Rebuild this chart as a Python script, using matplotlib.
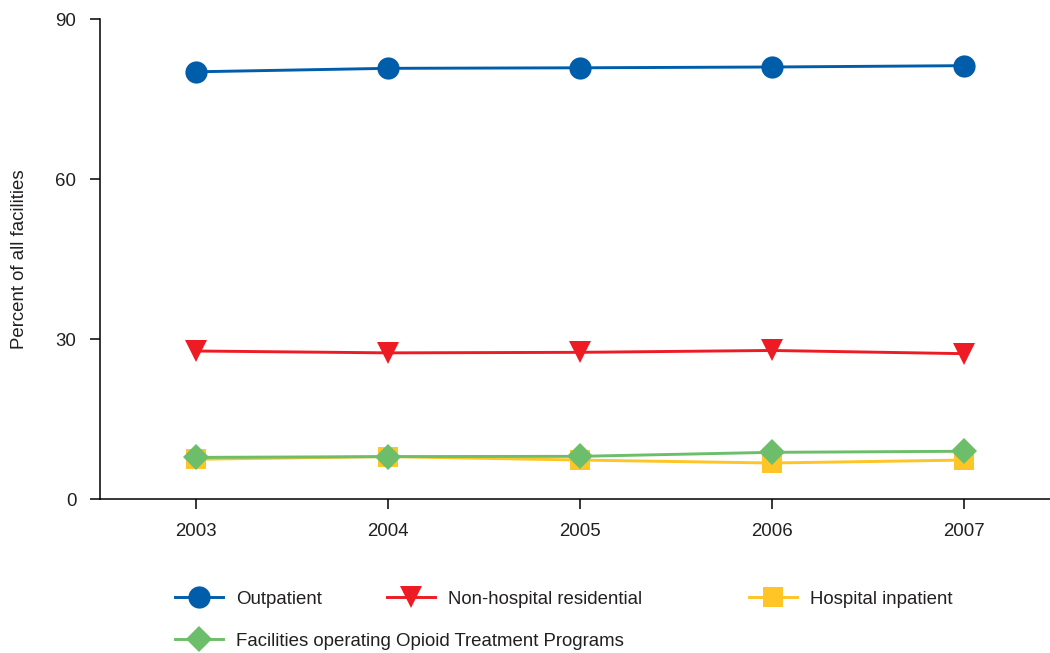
import numpy as np
import matplotlib
matplotlib.use('Agg')
import matplotlib.pyplot as plt
from matplotlib.lines import Line2D

years = [2003, 2004, 2005, 2006, 2007]
outpatient = [80.1, 80.75, 80.85, 81.0, 81.25]
residential = [27.75, 27.4, 27.5, 27.85, 27.25]
inpatient = [7.45, 7.95, 7.3, 6.75, 7.3]
otp = [7.8, 7.95, 8.0, 8.75, 8.95]

labels = ['Outpatient', 'Non-hospital residential', 'Hospital inpatient',
          'Facilities operating Opioid Treatment Programs']
colors = ['#005DAA', '#ED1C24', '#FFC425', '#6CBE6A']
markers = ['o', 'v', 's', 'D']
msizes = [16, 16, 14.5, 13]
txt = '#231F20'
fs = 13.4

plt.rcParams['font.family'] = ['Liberation Sans', 'DejaVu Sans']

fig = plt.figure(figsize=(10.5, 6.53), dpi=100)
ax = fig.add_axes([100/1050, 1 - 499/653, 1 - 100/1050, 480/653])

series = [outpatient, residential, inpatient, otp]
for s, c, m, ms in zip(series, colors, markers, msizes):
    ax.plot(years, s, color=c, marker=m, markersize=ms, linewidth=2.1,
            markeredgewidth=0, clip_on=False)

ax.set_xlim(2002.5, 2007.45)
ax.set_ylim(0, 90)
ax.set_yticks([0, 30, 60, 90])
ax.set_xticks(years)
ax.spines['top'].set_visible(False)
ax.spines['right'].set_visible(False)
ax.spines['left'].set_linewidth(1.1)
ax.spines['bottom'].set_linewidth(1.1)
ax.tick_params(direction='out', length=7, width=1.1, pad=10,
               labelsize=fs, colors='black', labelcolor=txt)
ax.set_ylabel('Percent of all facilities', fontsize=fs, color=txt)
ax.yaxis.set_label_coords(-72/950, 0.5)

# legend entries placed one by one, like the original layout
pos = [(175, 599), (387, 599), (749, 599), (175, 641)]
for lab, c, m, ms, (px, py) in zip(labels, colors, markers, msizes, pos):
    h = Line2D([], [], color=c, marker=m, markersize=ms, linewidth=2.1,
               markeredgewidth=0)
    fig.legend([h], [lab], loc='center left',
               bbox_to_anchor=(px/1050, 1 - py/653), frameon=False,
               borderpad=0, borderaxespad=0, handlelength=2.6,
               handletextpad=0.7, fontsize=fs, labelcolor=txt, numpoints=1)

fig.savefig('out.png', dpi=100)
